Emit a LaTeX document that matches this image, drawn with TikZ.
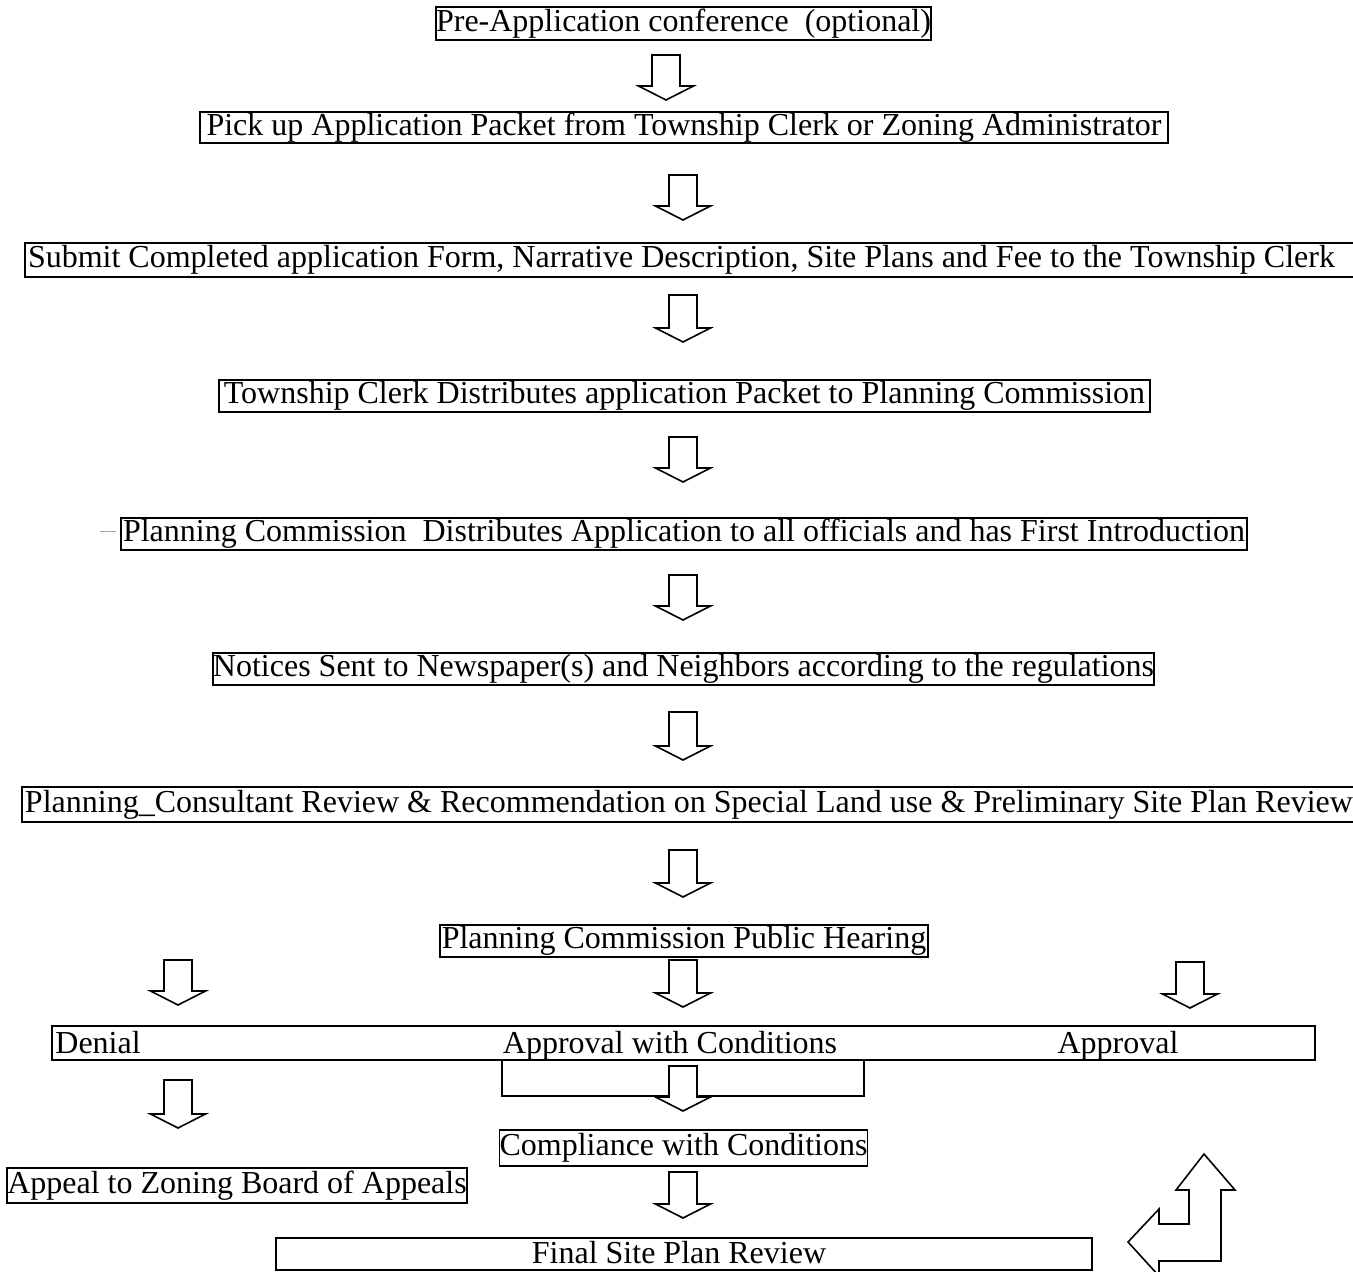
\documentclass[tikz,border=0pt]{standalone}
\usepackage{fontspec}
\setmainfont{Liberation Serif}
\usetikzlibrary{calc}
\tikzset{
  box/.style={draw, line width=0.8pt, rectangle, inner sep=0pt, align=center,
    font=\fontsize{16}{18}\selectfont},
  lbl/.style={inner sep=0pt, font=\fontsize{16}{18}\selectfont},
  arr/.style={draw, line width=0.8pt, fill=white, line join=miter},
  pics/barrow/.style={code={
    \path[arr] (-14,0) -- (14,0) -- (14,#1-14) -- (27.5,#1-14) -- (0,#1)
      -- (-27.5,#1-14) -- (-14,#1-14) -- cycle;}}
}
\begin{document}
\begin{tikzpicture}[x=0.5pt,y=-0.5pt]
\clip (0,0) rectangle (1353,1272);
\fill[white] (0,0) rectangle (1353,1272);

% boxes
\node[box, minimum width=247.5pt, minimum height=16.5pt] (b1) at (683.5,23.5) {Pre-Application conference\ \ (optional)};
\node[box, minimum width=484pt, minimum height=15.5pt] (b2) at (684,127.5) {Pick up Application Packet from Township Clerk or Zoning Administrator};
\node[box, inner xsep=1.5pt, minimum height=17pt] (b3) at (697.5,260) {\makebox[669.5pt][l]{Submit Completed application Form, Narrative Description, Site Plans and Fee to the Township Clerk}};
\node[box, minimum width=465.5pt, minimum height=16pt] (b4) at (684.5,396) {Township Clerk Distributes application Packet to Planning Commission};
\node[box, minimum width=563pt, minimum height=16pt] (b5) at (684,534) {Planning Commission\ \ Distributes Application to all officials and has First Introduction};
\node[box, minimum width=470.5pt, minimum height=16pt] (b6) at (683.5,669) {Notices Sent to Newspaper(s) and Neighbors according to the regulations};
\node[box, inner xsep=1.5pt, minimum height=17.5pt] (b7) at (696,804.5) {\makebox[671pt][l]{Planning\_Consultant Review \& Recommendation on Special Land use \& Preliminary Site Plan Review}};
\node[box, minimum width=244pt, minimum height=16pt] (b8) at (684,941) {Planning Commission Public Hearing};
\node[box, minimum width=631.5pt, minimum height=17pt] (b9) at (683.5,1043) {};
\node[box, minimum width=181pt, minimum height=18pt] (b9s) at (683,1078) {};
\node[lbl, anchor=base west] (denial) at (55,1053) {Denial};
\node[lbl, anchor=base] (awc) at (670,1053) {Approval with Conditions};
\node[lbl, anchor=base] (appr) at (1118,1053) {Approval};
\node[box, minimum width=183.5pt, minimum height=18pt] (b10) at (683.5,1148) {Compliance with Conditions};
\node[box, minimum width=229pt, minimum height=17.5pt] (b11) at (237,1185.5) {Appeal to Zoning Board of Appeals};
\node[box, minimum width=408pt, minimum height=16pt] (b12) at (684,1254) {};
\node[lbl, anchor=base] (fspr) at (679,1263) {Final Site Plan Review};

% stray mark
\draw[black!35, line width=0.5pt] (100,531) -- (116,531);

% block arrows
\pic at (666,55) {barrow=45};
\pic at (683,175) {barrow=45};
\pic at (683,295) {barrow=47};
\pic at (683,437) {barrow=45};
\pic at (683,575) {barrow=45};
\pic at (683,712) {barrow=48};
\pic at (683,850) {barrow=47};
\pic at (178,960) {barrow=45};
\pic at (683,960) {barrow=47};
\pic at (1190,962) {barrow=46};
\pic at (178,1080) {barrow=48};
\pic at (683,1066) {barrow=45};
\pic at (683,1172) {barrow=46};

% bent arrow
\path[arr] (1204,1154) -- (1235,1190) -- (1221,1190) -- (1221,1261) -- (1159,1261)
  -- (1159,1276) -- (1128,1242) -- (1159,1209) -- (1159,1224) -- (1189,1224)
  -- (1189,1190) -- (1176,1190) -- cycle;
\end{tikzpicture}
\end{document}
